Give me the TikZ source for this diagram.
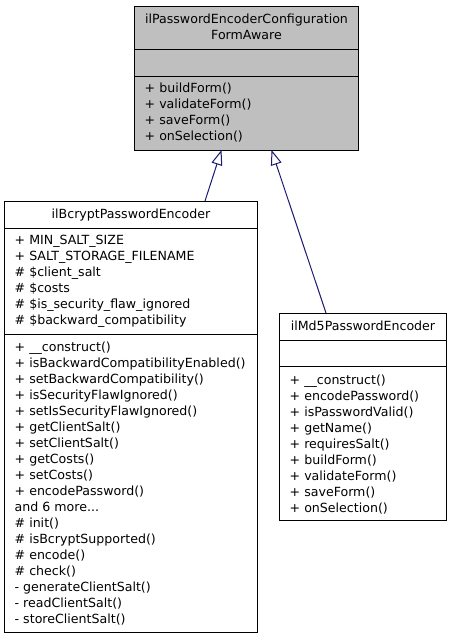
\documentclass[tikz,border=0pt]{standalone}
\usepackage{fontspec}
\setmainfont{DejaVu Sans}
\usetikzlibrary{arrows.meta}
\definecolor{edgeblue}{HTML}{191970}
\definecolor{boxgray}{HTML}{BFBFBF}
\newcommand\moredotsx{...}
\begin{document}
\begin{tikzpicture}[x=1bp,y=-1bp,
  classbox/.style={draw=black, line width=1bp, anchor=north west, inner sep=0, outer sep=0},
  sepline/.style={draw=black, line width=1.2bp},
  txt/.style={font=\fontsize{12.65}{16}\selectfont, inner sep=0, anchor=base west},
  ttl/.style={font=\fontsize{12.65}{16}\selectfont, inner sep=0, anchor=base},
  inherit/.style={draw=edgeblue, line width=1bp, -{Triangle[open, length=15bp, width=11bp, fill=white]}}
]
\useasboundingbox (0,0) rectangle (451,640);

% --- top interface box
\node[classbox, fill=boxgray, minimum width=224bp, minimum height=143bp] (iface) at (134.5,7) {};
\draw[sepline] (134.5,49.5 -| iface.west) -- (134.5,49.5 -| iface.east);
\draw[sepline] (134.5,76.5 -| iface.west) -- (134.5,76.5 -| iface.east);
\node[ttl] (ifaceT1) at (246.5,23.5) {ilPasswordEncoderConfiguration};
\node[ttl] (ifaceT2) at (246.5,39.5) {FormAware};
\foreach \t [count=\i from 0] in {+ buildForm(), + validateForm(), + saveForm(), + onSelection()}
  \node[txt] (im\i) at (144.5,92.5+16*\i) {\t};

% --- bcrypt box
\node[classbox, fill=white, minimum width=253bp, minimum height=431bp] (bcrypt) at (4.5,201) {};
\draw[sepline] (4.5,228.5 -| bcrypt.west) -- (4.5,228.5 -| bcrypt.east);
\draw[sepline] (4.5,334.5 -| bcrypt.west) -- (4.5,334.5 -| bcrypt.east);
\node[ttl] (bcryptT) at (131,218.5) {ilBcryptPasswordEncoder};
\foreach \t [count=\i from 0] in {+ MIN\_SALT\_SIZE, + SALT\_STORAGE\_FILENAME, {\# \$client\_salt}, {\# \$costs}, {\# \$is\_security\_flaw\_ignored}, {\# \$backward\_compatibility}}
  \node[txt] (ba\i) at (14.5,244.5+16*\i) {\t};
\foreach \t [count=\i from 0] in {+ \_\_construct(), + isBackwardCompatibilityEnabled(), + setBackwardCompatibility(), + isSecurityFlawIgnored(), + setIsSecurityFlawIgnored(), + getClientSalt(), + setClientSalt(), + getCosts(), + setCosts(), + encodePassword(), and 6 more\moredotsx, {\# init()}, {\# isBcryptSupported()}, {\# encode()}, {\# check()}, {- generateClientSalt()}, {- readClientSalt()}, {- storeClientSalt()}}
  \node[txt] (bm\i) at (14.5,351.5+16*\i) {\t};

% --- md5 box
\node[classbox, fill=white, minimum width=167bp, minimum height=207bp] (md5) at (279.5,313) {};
\draw[sepline] (279.5,340.5 -| md5.west) -- (279.5,340.5 -| md5.east);
\draw[sepline] (279.5,366.5 -| md5.west) -- (279.5,366.5 -| md5.east);
\node[ttl] (md5T) at (363,330.5) {ilMd5PasswordEncoder};
\foreach \t [count=\i from 0] in {+ \_\_construct(), + encodePassword(), + isPasswordValid(), + getName(), + requiresSalt(), + buildForm(), + validateForm(), + saveForm(), + onSelection()}
  \node[txt] (mm\i) at (289.5,384.5+16*\i) {\t};

% --- inheritance connectors
\coordinate (bcryptTop) at (205,201);
\coordinate (ifaceTipL) at (221.5,150);
\coordinate (md5Top) at (326,313);
\coordinate (ifaceTipR) at (271.5,150);
\draw[inherit] (bcryptTop |- bcrypt.north) -- (ifaceTipL |- iface.south);
\draw[inherit] (md5Top |- md5.north) -- (ifaceTipR |- iface.south);
\end{tikzpicture}
\end{document}
